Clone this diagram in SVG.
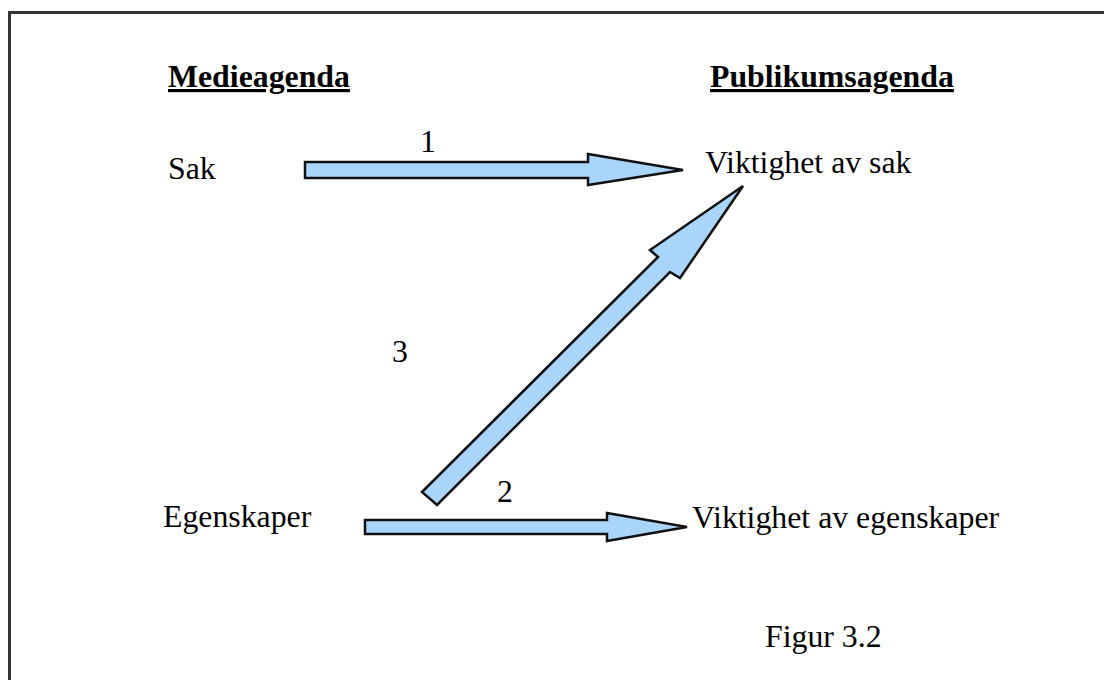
<svg xmlns="http://www.w3.org/2000/svg" width="1104" height="680" viewBox="0 0 1104 680">
<style>
.t{font-family:"Liberation Serif","Times New Roman",serif;font-size:31.8px;fill:#000}
.h{font-weight:bold;text-decoration:underline}
.arr{fill:#aad5fb;stroke:#111;stroke-width:2.5;stroke-linejoin:miter}
</style>
<rect x="0" y="0" width="1104" height="680" fill="#fff"/>
<rect x="9.5" y="12.5" width="1110" height="700" fill="none" stroke="#333" stroke-width="3"/>
<g id="medieagenda"><text class="t h" x="168" y="87">Medieagenda</text></g>
<g id="publikumsagenda"><text class="t h" x="710" y="87">Publikumsagenda</text></g>
<g id="sak"><text class="t" x="168" y="179">Sak</text></g>
<g id="viktighet-sak"><text class="t" x="705" y="173">Viktighet av sak</text></g>
<g id="egenskaper"><text class="t" x="163" y="527">Egenskaper</text></g>
<g id="viktighet-egenskaper"><text class="t" x="692" y="528">Viktighet av egenskaper</text></g>
<g id="figur"><text class="t" x="765" y="647">Figur 3.2</text></g>
<g id="connectors">
<polygon class="arr" points="305,162 588,162 588,154 683,170 588,185 588,178 305,178"/>
<polygon class="arr" points="365,520 607,520 607,513 687,527 607,541 607,534 365,534"/>
<polygon class="arr" points="422,492 658,257 650,250 743,186 680,278 670,272 437,505"/>
<text class="t" x="428" y="152" text-anchor="middle">1</text>
<text class="t" x="505" y="502" text-anchor="middle">2</text>
<text class="t" x="400" y="362" text-anchor="middle">3</text>
</g>
</svg>
